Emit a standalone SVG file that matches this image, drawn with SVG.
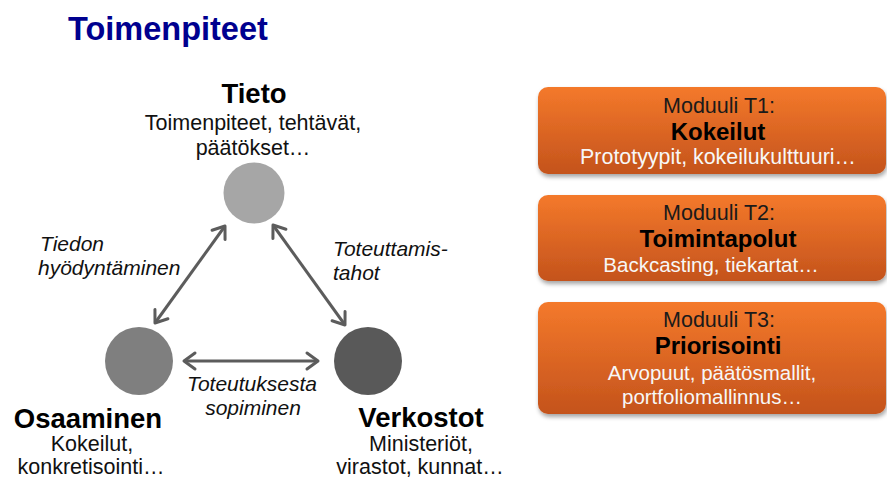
<svg xmlns="http://www.w3.org/2000/svg" width="887" height="478" viewBox="0 0 887 478">
  <style>
    text { font-family: "Liberation Sans", Arial, sans-serif; }
    .title { font-size: 32.5px; font-weight: bold; fill: #00008f; }
    .head { font-size: 27.5px; font-weight: bold; fill: #000; text-anchor: middle; }
    .sub { font-size: 21.5px; fill: #111; text-anchor: middle; }
    .lbl { font-size: 21px; font-style: italic; fill: #111; }
    .mod { font-size: 21.5px; fill: #1a1a1a; text-anchor: middle; }
    .modh { font-size: 24px; font-weight: bold; fill: #000; text-anchor: middle; }
    .modd { font-size: 20.5px; fill: #f7f7f7; text-anchor: middle; }
    .box { fill: url(#orange); filter: url(#shadow); }
    .conn { stroke: #5c5c5c; stroke-width: 3; fill: none; marker-start: url(#chev); marker-end: url(#chev); }
  </style>
  <defs>
    <linearGradient id="orange" x1="0" y1="0" x2="0" y2="1">
      <stop offset="0" stop-color="#f4792b"/>
      <stop offset="1" stop-color="#c4531c"/>
    </linearGradient>
    <filter id="shadow" x="-5%" y="-10%" width="115%" height="130%">
      <feDropShadow dx="1" dy="3" stdDeviation="2" flood-color="#000" flood-opacity="0.35"/>
    </filter>
    <marker id="chev" markerUnits="userSpaceOnUse" markerWidth="24" markerHeight="24" viewBox="-14 -12 18 24" refX="0" refY="0" orient="auto-start-reverse">
      <path d="M -11 -8 L 0 0 L -11 8" fill="none" stroke="#5c5c5c" stroke-width="3" stroke-linecap="round" stroke-linejoin="round"/>
    </marker>
  </defs>

  <text class="title" x="68" y="40">Toimenpiteet</text>

  <!-- connectors between the three circles -->
  <g id="connectors">
    <line class="conn" x1="225" y1="226" x2="155" y2="323"/>
    <line class="conn" x1="273" y1="225" x2="345" y2="325"/>
    <line class="conn" x1="184" y1="361" x2="318" y2="361"/>
    <text class="lbl" x="40" y="251">Tiedon</text>
    <text class="lbl" x="38" y="275">hyödyntäminen</text>
    <text class="lbl" x="333" y="256">Toteuttamis-</text>
    <text class="lbl" x="333" y="280">tahot</text>
    <text class="lbl" x="252" y="391" text-anchor="middle">Toteutuksesta</text>
    <text class="lbl" x="253" y="415" text-anchor="middle">sopiminen</text>
  </g>

  <g id="tieto">
    <circle cx="254" cy="193" r="30.5" fill="#a6a6a6"/>
    <text class="head" x="254" y="103">Tieto</text>
    <text class="sub" x="253" y="130">Toimenpiteet, tehtävät,</text>
    <text class="sub" x="253" y="155">päätökset…</text>
  </g>

  <g id="osaaminen">
    <circle cx="139" cy="361" r="34" fill="#7f7f7f"/>
    <text class="head" x="88" y="428">Osaaminen</text>
    <text class="sub" x="92" y="451">Kokeilut,</text>
    <text class="sub" x="91" y="474">konkretisointi…</text>
  </g>

  <g id="verkostot">
    <circle cx="368" cy="361" r="34" fill="#595959"/>
    <text class="head" x="421" y="427">Verkostot</text>
    <text class="sub" x="421" y="451">Ministeriöt,</text>
    <text class="sub" x="420" y="474">virastot, kunnat…</text>
  </g>

  <g id="moduuli-t1">
    <rect class="box" x="538" y="87" width="348" height="87" rx="10"/>
    <text class="mod" x="719" y="113">Moduuli T1:</text>
    <text class="modh" x="718" y="140">Kokeilut</text>
    <text class="modd" x="718" y="164" style="font-size:21.4px">Prototyypit, kokeilukulttuuri…</text>
  </g>

  <g id="moduuli-t2">
    <rect class="box" x="538" y="195" width="348" height="86" rx="10"/>
    <text class="mod" x="719" y="220">Moduuli T2:</text>
    <text class="modh" x="718" y="247">Toimintapolut</text>
    <text class="modd" x="711" y="272">Backcasting, tiekartat…</text>
  </g>

  <g id="moduuli-t3">
    <rect class="box" x="538" y="302" width="348" height="112" rx="10"/>
    <text class="mod" x="719" y="327">Moduuli T3:</text>
    <text class="modh" x="718" y="354">Priorisointi</text>
    <text class="modd" x="712" y="380">Arvopuut, päätösmallit,</text>
    <text class="modd" x="712" y="404">portfoliomallinnus…</text>
  </g>
</svg>
